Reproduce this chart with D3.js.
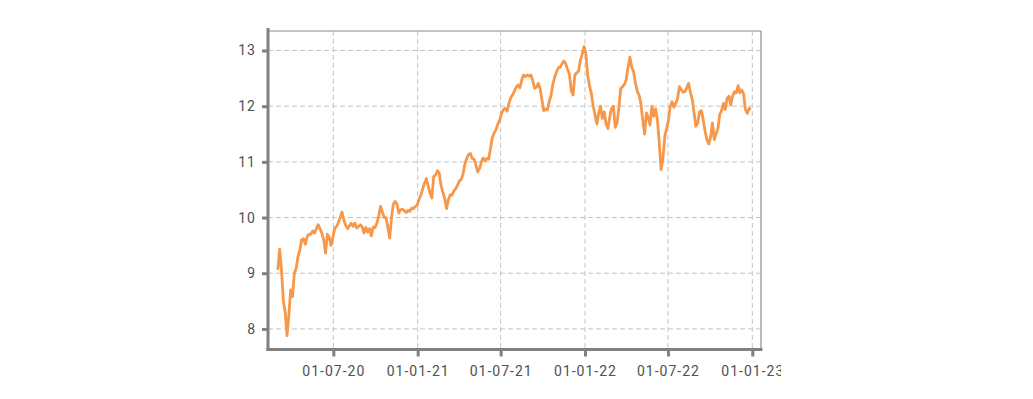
<!DOCTYPE html>
<html>
<head>
<meta charset="utf-8">
<script src="https://cdn.jsdelivr.net/npm/d3@7"></script>
<style>
	html, body { margin: 0; padding: 0; background: #fff; }
	#chart { width: 1033px; height: 399px; }
	.tick-label { font-family: Roboto, sans-serif; font-size: 14px; fill: #505050; letter-spacing: 1px; }
</style>
</head>
<body>
<div id="chart"></div>
<script>
// samples every 4 days starting 2020-03-02
const startDate = '2020-03-02';
const stepDays = 4;
const values = [
	9.06, 9.43, 9.05, 8.50, 8.30, 7.88, 8.25, 8.70, 8.58, 9.00,
	9.09, 9.30, 9.42, 9.60, 9.62, 9.52, 9.66, 9.70, 9.70, 9.76,
	9.72, 9.80, 9.87, 9.80, 9.72, 9.60, 9.36, 9.70, 9.65, 9.50,
	9.64, 9.81, 9.84, 9.91, 10.00, 10.10, 9.95, 9.86, 9.80, 9.85,
	9.90, 9.84, 9.90, 9.81, 9.84, 9.87, 9.83, 9.72, 9.82, 9.74,
	9.80, 9.67, 9.83, 9.82, 9.90, 10.02, 10.20, 10.10, 10.00, 10.00,
	9.82, 9.63, 10.00, 10.24, 10.29, 10.24, 10.08, 10.14, 10.15, 10.12,
	10.09, 10.13, 10.11, 10.17, 10.16, 10.20, 10.22, 10.33, 10.40, 10.52,
	10.62, 10.70, 10.57, 10.44, 10.35, 10.74, 10.76, 10.84, 10.80, 10.58,
	10.45, 10.34, 10.16, 10.32, 10.41, 10.40, 10.48, 10.52, 10.58, 10.66,
	10.68, 10.78, 10.96, 11.06, 11.13, 11.15, 11.06, 11.05, 10.95, 10.82,
	10.88, 11.00, 11.07, 11.02, 11.06, 11.05, 11.25, 11.44, 11.52, 11.58,
	11.68, 11.75, 11.87, 11.94, 11.96, 11.91, 12.05, 12.15, 12.20, 12.27,
	12.34, 12.38, 12.33, 12.47, 12.56, 12.53, 12.56, 12.54, 12.56, 12.46,
	12.32, 12.34, 12.41, 12.32, 12.12, 11.92, 11.95, 11.93, 12.08, 12.20,
	12.40, 12.52, 12.62, 12.69, 12.70, 12.76, 12.81, 12.76, 12.66, 12.58,
	12.28, 12.20, 12.56, 12.60, 12.63, 12.82, 12.94, 13.07, 12.95, 12.55,
	12.36, 12.22, 12.00, 11.84, 11.68, 11.88, 12.00, 11.78, 11.90, 11.68,
	11.60, 11.80, 11.96, 12.00, 11.62, 11.70, 11.98, 12.32, 12.35, 12.39,
	12.48, 12.70, 12.88, 12.70, 12.62, 12.42, 12.27, 12.20, 12.05, 11.75,
	11.50, 11.88, 11.80, 11.66, 12.00, 11.82, 11.95, 11.75, 11.35, 10.86,
	11.05, 11.45, 11.60, 11.74, 12.00, 12.08, 11.98, 12.05, 12.14, 12.35,
	12.30, 12.25, 12.26, 12.33, 12.41, 12.25, 12.12, 11.88, 11.64, 11.70,
	11.90, 11.92, 11.75, 11.55, 11.40, 11.32, 11.44, 11.70, 11.40, 11.50,
	11.60, 11.85, 11.92, 12.05, 11.94, 12.14, 12.18, 12.02, 12.18, 12.26,
	12.24, 12.37, 12.24, 12.29, 12.22, 11.94, 11.87, 11.96, 11.94
];
const xTicks = ['2020-07-01', '2021-01-01', '2021-07-01', '2022-01-01', '2022-07-01', '2023-01-01'];
const yTicks = [8, 9, 10, 11, 12, 13];
const xDomain = ['2020-02-09T12:00', '2023-01-20'];
const yDomain = [7.63, 13.35];

let parse = d3.timeParse('%Y-%m-%d');
let start = parse(startDate);
let data = values.map((v, i) => ({ date: d3.timeDay.offset(start, i * stepDays), value: v }));

let svgWidth = 781;
let svgHeight = 399;
let padding = { 'left': 268, 'right': 761, 'top': 31, 'bottom': 349.5 };

let svg = d3.select('#chart').append('svg')
	.attr('width', svgWidth)
	.attr('height', svgHeight)
	.style('overflow', 'hidden');

let x = d3.scaleTime()
	.domain([new Date(xDomain[0]), new Date(xDomain[1])])
	.range([padding.left, padding.right]);
let y = d3.scaleLinear()
	.domain(yDomain)
	.range([padding.bottom, padding.top]);

let grid = svg.append('g').classed('grid', true);
grid.selectAll('line.vgrid')
	.data(xTicks)
	.enter()
	.append('line')
	.attr('x1', d => x(parse(d)))
	.attr('x2', d => x(parse(d)))
	.attr('y1', padding.top)
	.attr('y2', padding.bottom)
	.attr('stroke', '#c4c4c4')
	.attr('stroke-width', 1)
	.attr('stroke-dasharray', '5,3');
grid.selectAll('line.hgrid')
	.data(yTicks)
	.enter()
	.append('line')
	.attr('x1', padding.left)
	.attr('x2', padding.right)
	.attr('y1', d => y(d))
	.attr('y2', d => y(d))
	.attr('stroke', '#c4c4c4')
	.attr('stroke-width', 1)
	.attr('stroke-dasharray', '5,3');

let line = d3.line()
	.x(d => x(d.date))
	.y(d => y(d.value));

svg.append('path')
	.datum(data)
	.attr('fill', 'none')
	.attr('stroke', '#f7974a')
	.attr('stroke-width', 2.8)
	.attr('stroke-linejoin', 'round')
	.attr('d', line);

// thin top / right spines
svg.append('line')
	.attr('x1', padding.left).attr('x2', padding.right)
	.attr('y1', padding.top).attr('y2', padding.top)
	.attr('stroke', '#8c8c8c').attr('stroke-width', 1.2);
svg.append('line')
	.attr('x1', padding.right).attr('x2', padding.right)
	.attr('y1', padding.top).attr('y2', padding.bottom)
	.attr('stroke', '#8c8c8c').attr('stroke-width', 1.2);

let axis_x = d3.axisBottom(x)
	.tickValues(xTicks.map(d => parse(d)))
	.tickFormat(d3.timeFormat('%d-%m-%y'))
	.tickSize(7)
	.tickPadding(10);
let axis_y = d3.axisLeft(y)
	.tickValues(yTicks)
	.tickFormat(d => d)
	.tickSize(6)
	.tickPadding(6);

let gx = svg.append('g')
	.attr('transform', `translate(0, ${padding.bottom})`)
	.call(axis_x);
gx.select('.domain').remove();
gx.selectAll('.tick line').attr('stroke', '#808080').attr('stroke-width', 3);
gx.selectAll('.tick text').attr('class', 'tick-label').attr('font-size', null).attr('font-family', null).attr('fill', null);

let gy = svg.append('g')
	.attr('transform', `translate(${padding.left}, 0)`)
	.call(axis_y);
gy.select('.domain').remove();
gy.selectAll('.tick line').attr('stroke', '#808080').attr('stroke-width', 3);
gy.selectAll('.tick text').attr('class', 'tick-label').attr('font-size', null).attr('font-family', null).attr('fill', null);

// heavy left / bottom spines
svg.append('line')
	.attr('x1', padding.left).attr('x2', padding.left)
	.attr('y1', padding.top - 3).attr('y2', padding.bottom + 1.5)
	.attr('stroke', '#808080').attr('stroke-width', 3);
svg.append('line')
	.attr('x1', padding.left - 1.5).attr('x2', padding.right + 1.5)
	.attr('y1', padding.bottom).attr('y2', padding.bottom)
	.attr('stroke', '#808080').attr('stroke-width', 3);
</script>
</body>
</html>
